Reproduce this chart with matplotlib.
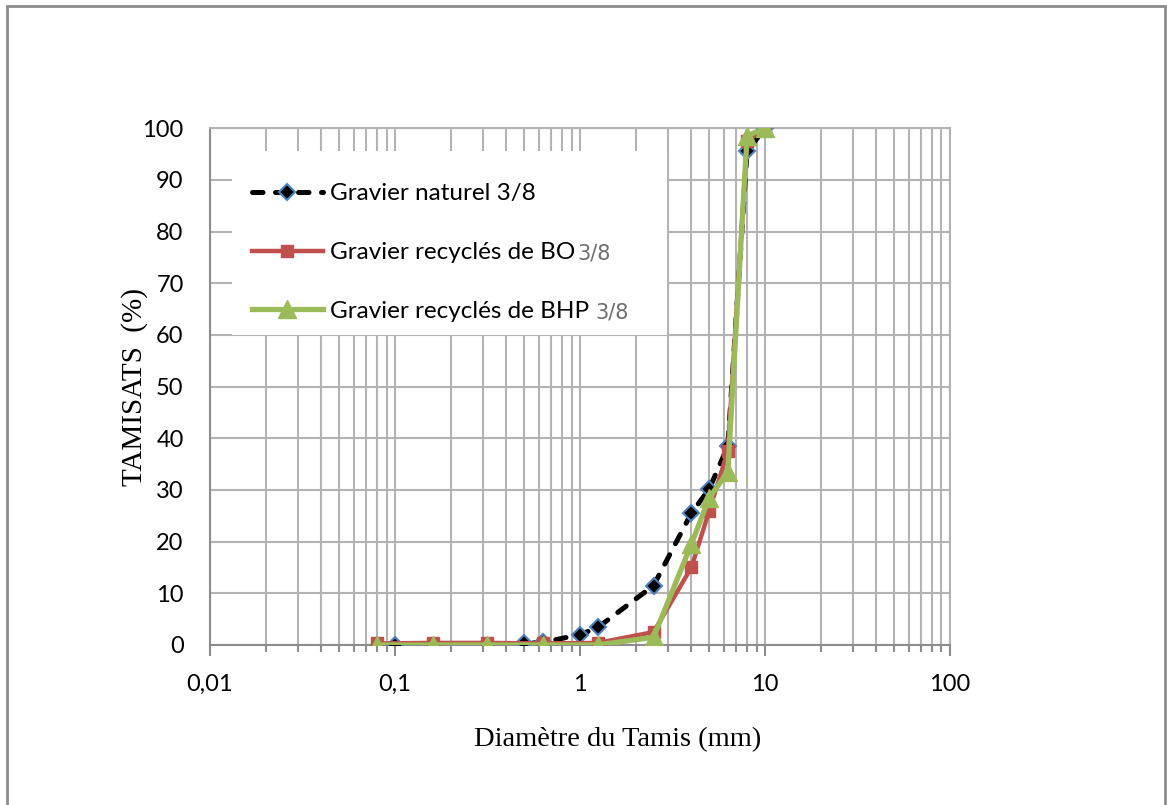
import matplotlib.pyplot as plt
from matplotlib.patches import Rectangle
from matplotlib.ticker import FixedLocator, LogLocator, NullFormatter

# Granulometric curves (sieve diameter in mm, passing in %)
xNat = [0.1, 0.5, 0.63, 1, 1.25, 2.5, 4, 5, 6.3, 8, 10]
yNat = [0, 0.3, 0.5, 2, 3.4, 11.5, 25.5, 30.2, 38.5, 95.5, 100]

xRec = [0.08, 0.16, 0.315, 0.63, 1.25, 2.5, 4, 5, 6.3, 8, 10]
yBO = [0.3, 0.4, 0.4, 0.3, 0.4, 2.5, 15, 26, 37.5, 97.5, 100]
yBHP = [0, 0, 0, 0, 0, 1.5, 19.5, 28.5, 33.5, 98.5, 100]

labels = ["Gravier naturel 3/8", "Gravier recyclés de BO", "Gravier recyclés de BHP"]
xTicks = [0.01, 0.1, 1, 10, 100]
xTickLabels = ["0,01", "0,1", "1", "10", "100"]
yTicks = list(range(0, 101, 10))

gridCol = "#b3b3b3"
axCol = "#8c8c8c"

fig = plt.figure(figsize=(11.67, 8.05), dpi=100)
ax = fig.add_axes([0.18, 0.1988, 0.634, 0.642])

ax.plot(xNat, yNat, color="black", lw=3.6, ls=(0, (2.1, 2.5)),
        dash_capstyle="round", marker="D", ms=8,
        mfc="black", mec="#4f81bd", mew=1.5, label=labels[0], zorder=3)
ax.plot(xRec, yBO, color="#c0504d", lw=3.2, marker="s", ms=8,
        mfc="#c0504d", mec="#c0504d", label=labels[1], zorder=4)
ax.plot(xRec, yBHP, color="#9bbb59", lw=3.8, marker="^", ms=13,
        mfc="#9bbb59", mec="#9bbb59", label=labels[2], zorder=5)

ax.set_xscale("log")
ax.set_xlim(0.01, 100)
ax.set_ylim(0, 100)
ax.xaxis.set_major_locator(FixedLocator(xTicks))
ax.set_xticklabels(xTickLabels)
ax.xaxis.set_minor_locator(LogLocator(base=10, subs=range(2, 10), numticks=20))
ax.xaxis.set_minor_formatter(NullFormatter())
ax.set_yticks(yTicks)

ax.grid(True, which="both", axis="x", color=gridCol, lw=1.5)
ax.grid(True, which="major", axis="y", color=gridCol, lw=1.5)
ax.set_axisbelow(True)

for s in ["top", "right"]:
    ax.spines[s].set_color(gridCol)
    ax.spines[s].set_linewidth(1.5)
for s in ["left", "bottom"]:
    ax.spines[s].set_color(axCol)
    ax.spines[s].set_linewidth(1.5)

ax.tick_params(axis="x", which="major", length=8, width=1.5, color=axCol,
               pad=13, labelsize=17)
ax.tick_params(axis="x", which="minor", length=5, width=1.5, color=axCol)
ax.tick_params(axis="y", length=0, pad=19, labelsize=17)
for t in ax.get_xticklabels() + ax.get_yticklabels():
    t.set_fontfamily("Lato")

ax.set_xlabel("Diamètre du Tamis (mm)", fontfamily="Liberation Serif",
              fontsize=20.5, labelpad=23, x=0.551)
ax.set_ylabel("TAMISATS  (%)", fontfamily="Liberation Serif",
              fontsize=21, labelpad=-4)

# white panel behind the legend
ax.add_patch(Rectangle((0.0297, 0.5996), 0.588, 0.357, transform=ax.transAxes,
                       facecolor="white", edgecolor="none", zorder=2))

leg = ax.legend(loc="upper left", bbox_to_anchor=(0.024, 0.94), frameon=False,
                prop={"family": "Lato", "size": 17.5}, handlelength=2.9,
                handletextpad=0.3, labelspacing=1.55, borderpad=0.5)
leg.set_zorder(6)

# grey fraction label after the recycled gravel entries
fig.canvas.draw()
r = fig.canvas.get_renderer()
for t, dx in zip(leg.get_texts()[1:], [2, 6]):
    bb = t.get_window_extent(r)
    fig.text(bb.x1 + dx, (bb.y0 + bb.y1) / 2 - 1, "3/8", transform=None,
             fontsize=15, fontfamily="DejaVu Sans", color="#6e6e6e",
             va="center", zorder=7)

# outer frame of the chart
fig.patches.append(Rectangle((0.006, -0.01), 0.992, 1.003, transform=fig.transFigure,
                             fill=False, edgecolor="#8c8c8c", lw=2))

fig.savefig("out.png", dpi=100)
